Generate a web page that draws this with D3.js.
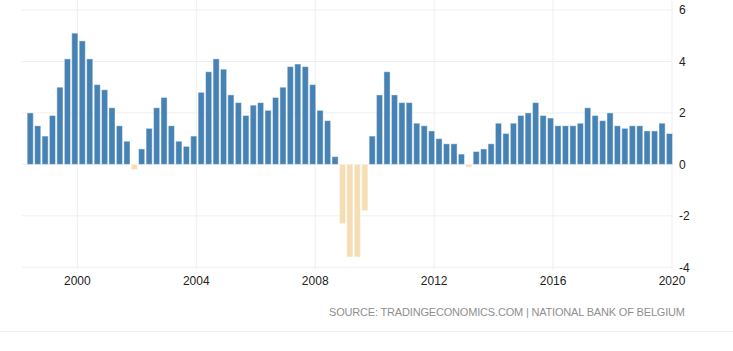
<!DOCTYPE html>
<html lang="en">
<head>
	<meta charset="utf-8">
	<title>Belgium GDP growth</title>
	<script src="https://d3js.org/d3.v7.min.js"></script>
	<style>
		html, body { margin: 0; padding: 0; background: #fff; }
		svg { display: block; font-family: "Liberation Sans", Arial, sans-serif; }
	</style>
</head>
<body>
	<div id="chart"></div>
	<script>
		// Data: quarterly annual growth rate, 1998 Q2 to 2019 Q4
		const startYear = 1998;
		const startQuarter = 2;
		const values = [
			2.0, 1.5, 1.1,
			1.9, 3.0, 4.1, 5.1,
			4.8, 4.1, 3.1, 2.9,
			2.2, 1.5, 0.9, -0.2,
			0.6, 1.4, 2.2, 2.6,
			1.5, 0.9, 0.7, 1.1,
			2.8, 3.6, 4.1, 3.7,
			2.7, 2.4, 1.9, 2.3,
			2.4, 2.1, 2.6, 3.0,
			3.8, 3.9, 3.8, 3.1,
			2.1, 1.7, 0.3, -2.3,
			-3.6, -3.6, -1.8, 1.1,
			2.7, 3.6, 2.7, 2.4,
			2.4, 1.6, 1.5, 1.3,
			1.0, 0.8, 0.8, 0.4,
			-0.1, 0.5, 0.6, 0.8,
			1.6, 1.2, 1.6, 1.9,
			2.0, 2.4, 1.9, 1.8,
			1.5, 1.5, 1.5, 1.6,
			2.2, 1.9, 1.7, 2.0,
			1.5, 1.4, 1.5, 1.5,
			1.3, 1.3, 1.6, 1.2
		];
		const yTicks = [-4, -2, 0, 2, 4, 6];
		const xTickYears = [2000, 2004, 2008, 2012, 2016, 2020];
		const sourceText = "SOURCE: TRADINGECONOMICS.COM | NATIONAL BANK OF BELGIUM";

		// each bar sits on the first day of the quarter's last month
		const data = values.map((v, i) => {
			const q = startQuarter - 1 + i;
			const year = startYear + Math.floor(q / 4);
			const month = (q % 4) * 3 + 2;
			return { date: new Date(year, month, 1), value: v };
		});

		const width = 733;
		const height = 351;
		const plot = { left: 22, right: 672, top: 0, bottom: 270 };

		const svg = d3.select("#chart")
			.append("svg")
			.attr("width", width)
			.attr("height", height);

		const x = d3.scaleTime()
			.domain([new Date(1998, 1, 20), new Date(2020, 0, 1)])
			.range([plot.left, plot.right]);

		const y = d3.scaleLinear()
			.domain([-4, 6])
			.range([267.3, 10]);

		// Grid
		svg.append("g")
			.selectAll("line")
			.data(xTickYears)
			.join("line")
			.attr("x1", d => x(new Date(d, 0, 1)))
			.attr("x2", d => x(new Date(d, 0, 1)))
			.attr("y1", plot.top)
			.attr("y2", plot.bottom)
			.attr("stroke", "#efefef")
			.attr("stroke-width", 1);

		svg.append("g")
			.selectAll("line")
			.data(yTicks)
			.join("line")
			.attr("x1", plot.left)
			.attr("x2", plot.right)
			.attr("y1", d => y(d))
			.attr("y2", d => y(d))
			.attr("stroke", "#efefef")
			.attr("stroke-width", 1);

		// Bars
		const step = x(new Date(2001, 3, 1)) - x(new Date(2001, 0, 1));
		const barW = step - 1.2;

		svg.append("g")
			.selectAll("rect")
			.data(data)
			.join("rect")
			.attr("x", d => x(d.date) - barW / 2)
			.attr("width", barW)
			.attr("y", d => y(Math.max(0, d.value)))
			.attr("height", d => Math.abs(y(d.value) - y(0)))
			.attr("fill", d => d.value < 0 ? "#f5deb3" : "#4682b4")
			.attr("stroke", "#fff")
			.attr("stroke-opacity", 0.45)
			.attr("stroke-width", 1);

		// Axes labels
		svg.append("g")
			.selectAll("text")
			.data(yTicks)
			.join("text")
			.attr("x", 679)
			.attr("y", d => y(d))
			.attr("dy", "0.35em")
			.attr("font-size", 12)
			.attr("fill", "#222")
			.text(d => d);

		svg.append("g")
			.selectAll("text")
			.data(xTickYears)
			.join("text")
			.attr("x", d => x(new Date(d, 0, 1)))
			.attr("y", 285)
			.attr("text-anchor", "middle")
			.attr("font-size", 12)
			.attr("fill", "#222")
			.text(d => d);

		// Source
		svg.append("text")
			.attr("x", 685)
			.attr("y", 316)
			.attr("text-anchor", "end")
			.attr("font-size", 11)
			.attr("textLength", 356)
			.attr("lengthAdjust", "spacing")
			.attr("fill", "#8f8f8f")
			.text(sourceText);

		svg.append("line")
			.attr("x1", 0)
			.attr("x2", width)
			.attr("y1", 331.5)
			.attr("y2", 331.5)
			.attr("stroke", "#efefef");
	</script>
</body>
</html>
